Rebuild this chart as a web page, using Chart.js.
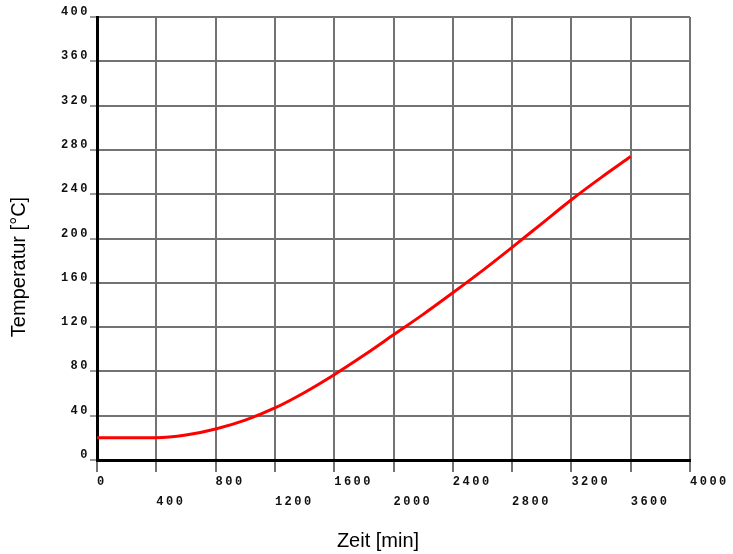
<!DOCTYPE html>
<html>
<head>
<meta charset="utf-8">
<script src="https://cdn.jsdelivr.net/npm/chart.js@4/dist/chart.umd.min.js"></script>
<style>
  html, body { margin: 0; padding: 0; background: #fff; }
  #wrap { width: 733px; height: 554px; }
</style>
</head>
<body>
<div id="wrap"><canvas id="c" width="733" height="554"></canvas></div>
<script>
// Heating curve: time in minutes vs temperature in °C
const timeMin = [0, 200, 400, 600, 800, 1000, 1200, 1400, 1600, 1800, 2000, 2200, 2400, 2600, 2800, 3000, 3200, 3400, 3600];
const tempC   = [20, 20, 20, 22.5, 28, 36, 47, 61, 77, 94.5, 113, 131.5, 151, 171, 192, 213.5, 235, 255, 274];

const xTicks = [0, 400, 800, 1200, 1600, 2000, 2400, 2800, 3200, 3600, 4000];
const yTicks = [0, 40, 80, 120, 160, 200, 240, 280, 320, 360, 400];

const xTitle = 'Zeit [min]';
const yTitle = 'Temperatur [°C]';

const points = timeMin.map((t, i) => ({ x: t, y: tempC[i] }));

const tickFamily = '"Liberation Mono", "DejaVu Sans Mono", monospace';
const gridColor = '#737373';

// wide-spaced tick digits, and axis titles drawn at fixed spots
const spacingAndTitles = {
  id: 'spacingAndTitles',
  beforeDraw(chart) {
    chart.ctx.letterSpacing = '2.5px';
  },
  afterDraw(chart) {
    const ctx = chart.ctx;
    ctx.save();
    ctx.letterSpacing = '0px';
    ctx.fillStyle = '#000';
    ctx.font = '20px "Liberation Sans", Arial, sans-serif';
    ctx.textAlign = 'center';
    ctx.textBaseline = 'middle';
    ctx.fillText(xTitle, 378, 541);
    ctx.translate(19, 267);
    ctx.rotate(-Math.PI / 2);
    ctx.fillText(yTitle, 0, 0);
    ctx.restore();
  }
};

new Chart(document.getElementById('c'), {
  type: 'scatter',
  data: {
    datasets: [{
      data: points,
      showLine: true,
      borderColor: '#ff0000',
      backgroundColor: '#ff0000',
      borderWidth: 3,
      pointRadius: 0,
      cubicInterpolationMode: 'monotone'
    }]
  },
  options: {
    responsive: false,
    animation: false,
    events: [],
    layout: { padding: { top: 17, right: 43, left: 0, bottom: 0 } },
    plugins: { legend: { display: false }, tooltip: { enabled: false } },
    scales: {
      x: {
        type: 'linear',
        min: 0, max: 4000,
        afterFit(scale) { scale.height = 94; },
        afterBuildTicks(scale) { scale.ticks = xTicks.map(v => ({ value: v })); },
        grid: { color: gridColor, lineWidth: 2, drawTicks: true, tickLength: 12, tickColor: gridColor, tickWidth: 2 },
        border: { color: '#000', width: 3 },
        ticks: {
          align: 'start',
          padding: 0,
          maxRotation: 0,
          autoSkip: false,
          color: '#111',
          font: { family: tickFamily, size: 12, weight: 'bold', lineHeight: 20 / 12 },
          callback(value, index) {
            const s = String(value);
            return index % 2 === 1 ? ['', s] : s;
          }
        }
      },
      y: {
        type: 'linear',
        min: 0, max: 400,
        afterFit(scale) { scale.width = 97; },
        afterBuildTicks(scale) { scale.ticks = yTicks.map(v => ({ value: v })); },
        grid: { color: gridColor, lineWidth: 2, drawTicks: true, tickLength: 7, tickColor: '#333', tickWidth: 1 },
        border: { color: '#000', width: 3 },
        ticks: {
          padding: 0,
          labelOffset: -5,
          autoSkip: false,
          color: '#111',
          font: { family: tickFamily, size: 12, weight: 'bold' },
          callback(value) { return String(value); }
        }
      }
    }
  },
  plugins: [spacingAndTitles]
});
</script>
</body>
</html>
